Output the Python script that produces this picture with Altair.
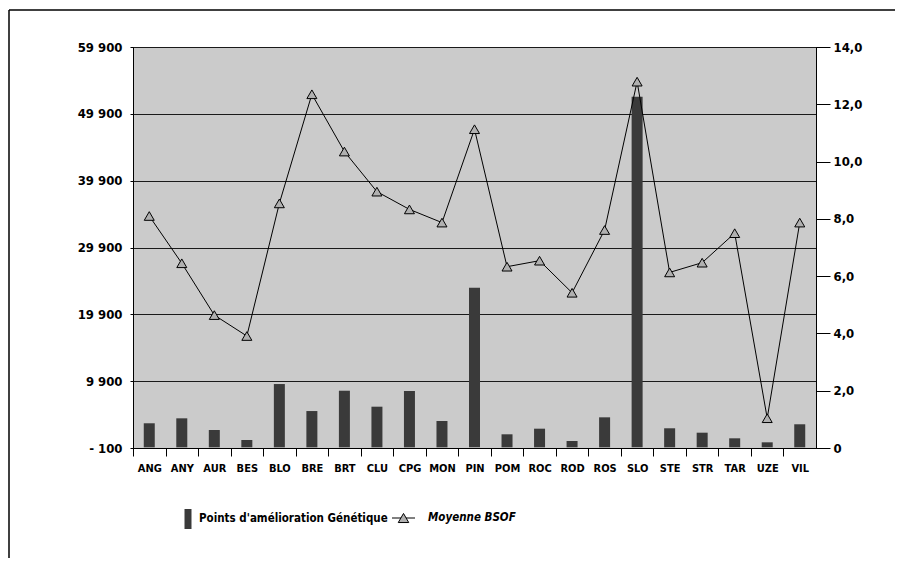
import altair as alt
import pandas as pd

categories = ["ANG", "ANY", "AUR", "BES", "BLO", "BRE", "BRT", "CLU", "CPG", "MON", "PIN",
              "POM", "ROC", "ROD", "ROS", "SLO", "STE", "STR", "TAR", "UZE", "VIL"]
points_genetique = [3600, 4340, 2590, 1100, 9470, 5430, 8470, 6080, 8430, 3940, 23880,
                    1950, 2790, 950, 4490, 52450, 2850, 2190, 1350, 750, 3450]
moyenne_bsof = [8.1, 6.45, 4.64, 3.91, 8.54, 12.35, 10.35, 8.95, 8.33, 7.87, 11.13,
                6.33, 6.54, 5.42, 7.61, 12.79, 6.13, 6.47, 7.5, 1.04, 7.87]
left_ticks = [-100, 9900, 19900, 29900, 39900, 49900, 59900]
right_ticks = [0, 2, 4, 6, 8, 10, 12, 14]
series_bar = "Points d'amélioration Génétique"
series_line = "Moyenne BSOF"

FONT = "DejaVu Sans Condensed, Liberation Sans Narrow, Roboto, sans-serif"
W, H = 683, 401
BAND = W / len(categories)

df = pd.DataFrame({
    "cat": categories,
    "pts": points_genetique,
    "bsof": moyenne_bsof,
    "s1": [series_bar] * len(categories),
})

BAR_PATH = "M-0.35,-1H0.35V1H-0.35Z"

x_enc = alt.X("cat:N", sort=categories, title=None,
              scale=alt.Scale(paddingInner=0, paddingOuter=0),
              axis=alt.Axis(labelAngle=0, tickOffset=-BAND / 2, labelOffset=BAND / 2,
                            tickSize=8, tickColor="black", domainColor="black",
                            labelFont=FONT, labelFontSize=11, labelFontWeight="bold",
                            labelColor="black", labelPadding=6))

bars = alt.Chart(df).mark_bar(size=11).encode(
    x=x_enc,
    y=alt.Y("pts:Q", title=None,
            scale=alt.Scale(domain=[-100, 59900], nice=False, zero=False),
            axis=alt.Axis(values=left_ticks, tickSize=3, tickColor="black",
                          domainColor="black", grid=True, gridColor="#1a1a1a",
                          gridWidth=1, gridOpacity=1,
                          labelFont=FONT, labelFontSize=13, labelFontWeight="bold",
                          labelColor="black", labelPadding=8,
                          labelExpr="datum.value == -100 ? '- 100' : replace(format(datum.value, ',d'), ',', ' ')")),
    color=alt.Color("s1:N", scale=alt.Scale(domain=[series_bar], range=["#3a3a3a"]),
                    legend=alt.Legend(title=None, orient="none", legendX=44, legendY=461,
                                      symbolType=BAR_PATH, symbolSize=400,
                                      labelFont=FONT, labelFontSize=11.5, labelFontWeight="bold",
                                      labelColor="black", padding=0, labelOffset=0,
                                      labelLimit=400)),
)

right_scale = alt.Scale(domain=[0, 14], nice=False)

line = alt.Chart(df).mark_line(color="black", strokeWidth=1).encode(
    x=alt.X("cat:N", sort=categories),
    y=alt.Y("bsof:Q", title=None, scale=right_scale,
            axis=alt.Axis(orient="right", values=right_ticks, ticks=True, tickSize=14,
                          tickWidth=1, tickColor="black", domainColor="black", grid=False,
                          labelFont=FONT, labelFontSize=13, labelFontWeight="bold",
                          labelColor="black", labelPadding=3,
                          labelExpr="datum.value == 0 ? '0' : replace(format(datum.value, '.1f'), '.', ',')")),
)

pts = alt.Chart(df).mark_point(shape="triangle-up", filled=False, fill="#b0b0b0",
                               stroke="black", strokeWidth=1, size=100, opacity=1).encode(
    x=alt.X("cat:N", sort=categories),
    y=alt.Y("bsof:Q", title=None, scale=right_scale, axis=None),
)

one = pd.DataFrame({"k": [0]})

# legend entry for the line series
leg_line = alt.Chart(one).mark_rule(color="black", strokeWidth=1).encode(
    x=alt.value(259), x2=alt.value(282), y=alt.value(471))
leg_tri = alt.Chart(one).mark_point(shape="triangle-up", filled=False, fill="#b0b0b0",
                                    stroke="black", strokeWidth=1, size=110, opacity=1).encode(
    x=alt.value(270.5), y=alt.value(471))
leg_txt = alt.Chart(one).mark_text(align="left", baseline="middle", font=FONT, fontSize=11.5,
                                   fontWeight="bold", fontStyle="italic", color="black").encode(
    x=alt.value(295), y=alt.value(471), text=alt.value(series_line))

frame_left = alt.Chart(one).mark_rule(color="black", strokeWidth=1.5).encode(
    x=alt.value(-124), y=alt.value(-37), y2=alt.value(560))
frame_top = alt.Chart(one).mark_rule(color="black", strokeWidth=1.5).encode(
    x=alt.value(-124), x2=alt.value(770), y=alt.value(-37))

chart = alt.layer(frame_left, frame_top, bars, line, pts, leg_line, leg_tri, leg_txt).resolve_scale(
    y="independent", color="independent"
).properties(
    width=W, height=H,
    autosize=alt.AutoSizeParams(type="none"),
    padding={"left": 125, "top": 39, "right": 79, "bottom": 110},
    background="white",
).configure_view(
    fill="#cbcbcb", stroke="black", strokeWidth=1
)

chart.save("out.html", embed_options={"renderer": "svg", "actions": False})
